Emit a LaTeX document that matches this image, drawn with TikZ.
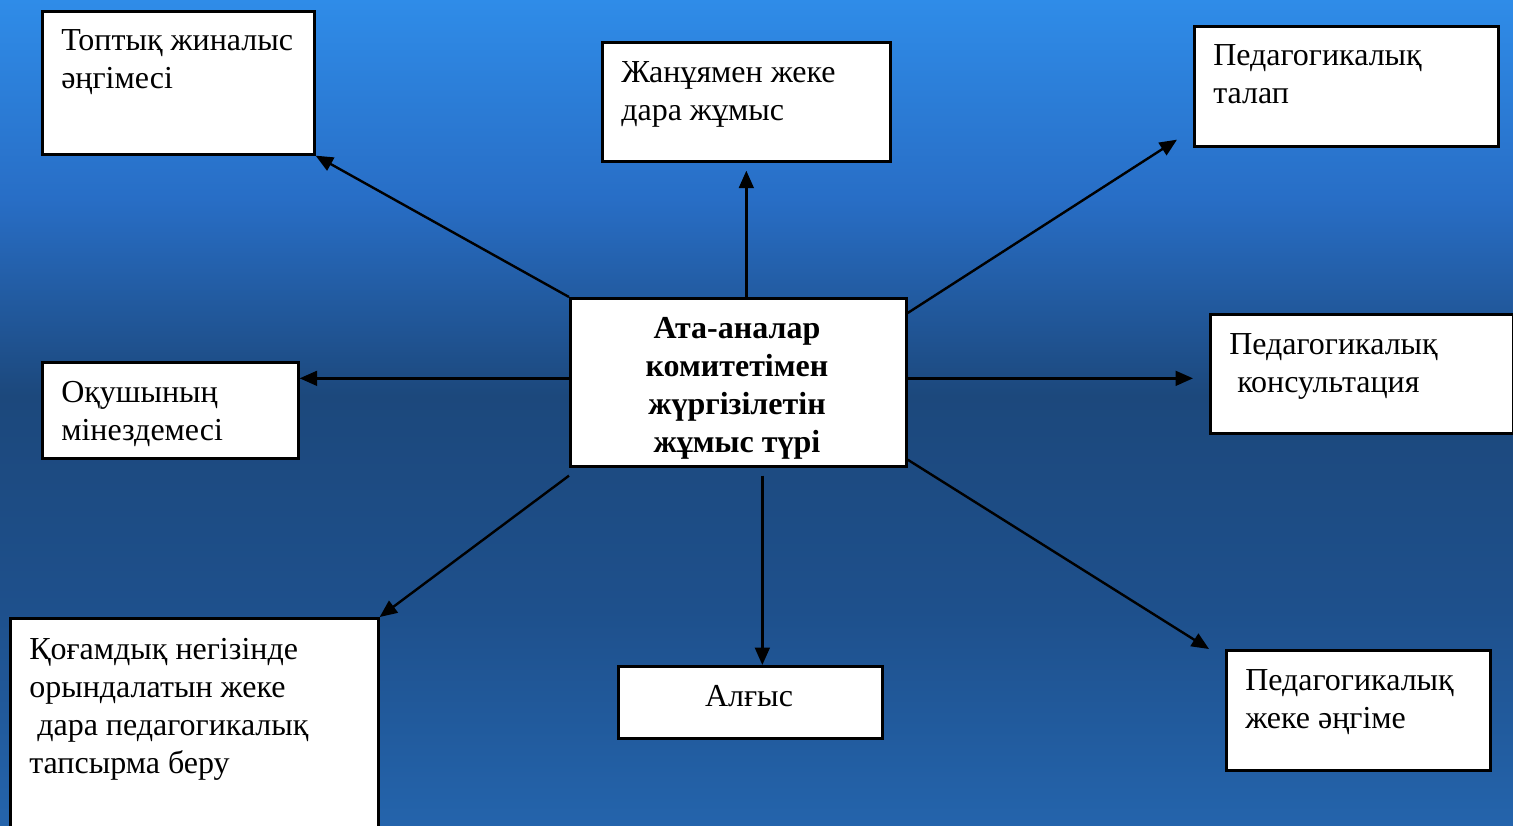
\documentclass[tikz,border=0pt]{standalone}
\usepackage{fontspec}
\setmainfont{Liberation Serif}
\usetikzlibrary{arrows.meta,calc}
\newcommand\px{0.75pt}
\pgfdeclareverticalshading{bgshade}{100bp}{%
  color(0bp)=(rgb,255:red,36;green,100;blue,172);
  color(25bp)=(rgb,255:red,36;green,100;blue,172);
  color(38bp)=(rgb,255:red,30;green,80;blue,140);
  color(51bp)=(rgb,255:red,28;green,72;blue,124);
  color(63bp)=(rgb,255:red,40;green,110;blue,198);
  color(75bp)=(rgb,255:red,47;green,140;blue,232);
  color(100bp)=(rgb,255:red,47;green,140;blue,232)}
\tikzset{
  bx/.style={draw=black, fill=white, line width=2pt, inner sep=0pt, anchor=north west},
  txt/.style={align=left, inner sep=0pt, anchor=base west, font=\fontsize{24}{28.5}\selectfont},
  arr/.style={line width=1.8pt, -{Triangle[length=13pt,width=11pt]}}
}
\begin{document}
\begin{tikzpicture}[x=0.75pt,y=-0.75pt]
    \useasboundingbox (0,0) rectangle (1513,825);
    \shade [shading=bgshade] (0,0) rectangle (1513,825);
    % boxes
    \node [bx, minimum width=272*\px, minimum height=143*\px] (topt) at (41,10) {};
    \node [bx, minimum width=288*\px, minimum height=119*\px] (janu) at (601,41) {};
    \node [bx, minimum width=304*\px, minimum height=120*\px] (talap) at (1193,25) {};
    \node [bx, minimum width=336*\px, minimum height=168*\px] (cen) at (569,297) {};
    \node [bx, minimum width=256*\px, minimum height=96*\px] (oku) at (41,361) {};
    \node [bx, minimum width=303*\px, minimum height=119*\px] (kons) at (1209,313) {};
    \node [bx, minimum width=368*\px, minimum height=220*\px] (qog) at (9,617) {};
    \node [bx, minimum width=264*\px, minimum height=72*\px] (algys) at (617,665) {};
    \node [bx, minimum width=264*\px, minimum height=120*\px] (ange) at (1225,649) {};
    % texts (anchored at the last baseline)
    \node [txt] (topt-t) at (61,88) {Топтық жиналыс\\әңгімесі};
    \node [txt] (janu-t) at (621,120) {Жанұямен жеке\\дара жұмыс};
    \node [txt] (talap-t) at (1213,103) {Педагогикалық\\талап};
    \node [txt, align=center, anchor=base, font=\fontsize{24}{28.5}\selectfont\bfseries] (cen-t) at (737,452)
        {Ата-аналар\\комитетімен\\жүргізілетін\\жұмыс түрі};
    \node [txt] (oku-t) at (61,440) {Оқушының\\мінездемесі};
    \node [txt] (kons-t) at (1229,392) {Педагогикалық\\\hspace*{0.25em}консультация};
    \node [txt] (qog-t) at (29,773) {Қоғамдық негізінде\\орындалатын жеке\\\hspace*{0.25em}дара педагогикалық\\тапсырма беру};
    \node [txt, anchor=base] (algys-t) at (749,706) {Алғыс};
    \node [txt] (ange-t) at (1245,728) {Педагогикалық\\жеке әңгіме};
    % arrows
    \draw [arr] (cen.north west) -- (topt.south east);
    \draw [arr, shorten >=6pt] (cen.north -| janu.south) -- (janu.south);
    \draw [arr] ($(cen.north east)+(0,16)$) -- ($(talap.south west)+(-16,-8)$);
    \draw [arr] ($(cen.west)+(0,-4)$) -- ($(cen.west -| oku.east)+(0,-4)$);
    \draw [arr] ($(cen.east)+(0,-4)$) -- ($(cen.east -| kons.west)+(-16,-4)$);
    \draw [arr] ($(cen.south west)+(0,8)$) -- (qog.north east);
    \draw [arr] ($(cen.south)+(24,8)$) -- ($(algys.north -| cen.south)+(24,0)$);
    \draw [arr] ($(cen.south east)+(0,-8)$) -- ($(ange.north west)+(-16,0)$);
\end{tikzpicture}
\end{document}
